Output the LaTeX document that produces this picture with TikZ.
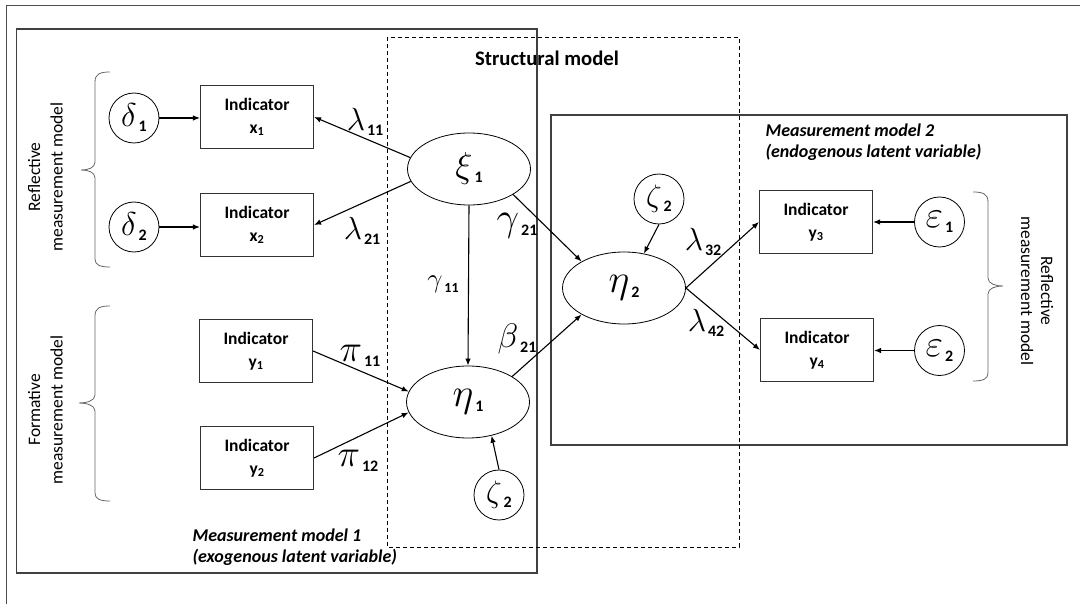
\RequirePackage{fix-cm}
\documentclass[tikz,border=0pt]{standalone}
\usepackage{fontspec}
\setmainfont{Carlito}
\usetikzlibrary{shapes.geometric,arrows.meta}
\newcommand{\gl}[4][16]{{\fontsize{#2}{#2}\selectfont$#3$}\hspace{2pt}\raisebox{-5pt}{\fontsize{#1}{#1}\selectfont\bfseries #4}}
\begin{document}
\begin{tikzpicture}[x=1pt,y=-1pt,
  ind/.style={draw=black!80, line width=1.1pt, minimum width=113pt, minimum height=63pt, inner sep=0pt, align=center, font=\fontsize{17.5}{23}\selectfont\bfseries},
  err/.style={draw, circle, line width=0.8pt, minimum size=50pt, inner sep=0pt},
  lat/.style={draw, ellipse, line width=0.8pt, minimum width=123pt, minimum height=72pt, inner sep=0pt},
  arr/.style={-{Latex[length=7pt,width=5.5pt]}, line width=1.1pt},
  lab/.style={inner sep=0pt},
  frame/.style={draw=black!75, line width=1.6pt},
  brace/.style={draw=black!60, line width=0.8pt},
  side/.style={align=center, font=\fontsize{17.5}{22.5}\selectfont},
  mmtext/.style={anchor=west, align=left, font=\fontsize{18}{21.5}\selectfont\bfseries\itshape},
]
\useasboundingbox (0,0) rectangle (1080,604);
% frames
\draw[draw=black!70, line width=1.2pt] (6.5,604) -- (6.5,5.5) -- (1080,5.5);
\draw[frame] (16.5,29) rectangle (537,573);
\draw[frame] (551,115) rectangle (1067,445);
\draw[line width=0.9pt, dash pattern=on 4pt off 3pt] (387.5,37.5) rectangle (739,547);

% texts
\node[font=\fontsize{20.7}{23}\selectfont\bfseries] (sm) at (547,58) {Structural model};
\node[mmtext] (mm2) at (762,142) {Measurement model 2\\(endogenous latent variable)};
\node[mmtext] (mm1) at (189,547) {Measurement model 1\\(exogenous latent variable)};
\node[side, rotate=90] (rl) at (45.5,177) {Reflective\\measurement model};
\node[side, rotate=90] (fl) at (45.5,410) {Formative\\measurement model};
\node[side, rotate=-90, font=\fontsize{17.5}{20}\selectfont] (rr) at (1037,291) {Reflective\\measurement model};

% braces
\draw[brace] (110,72) .. controls (100,72) and (95,74) .. (95,82) -- (95,162) .. controls (95,168) and (88,170) .. (81,170) .. controls (88,170) and (95,172) .. (95,178) -- (95,259) .. controls (95,265) and (100,267) .. (110,267);
\draw[brace] (110,306) .. controls (100,306) and (95,308) .. (95,316) -- (95,395) .. controls (95,401) and (86,403) .. (79,403) .. controls (86,403) and (95,405) .. (95,411) -- (95,493) .. controls (95,499) and (100,501) .. (110,501);
\draw[brace] (973,192) .. controls (983,192) and (988,194) .. (988,202) -- (988,278) .. controls (988,284) and (996,286) .. (1003,286) .. controls (996,286) and (988,288) .. (988,294) -- (988,373) .. controls (988,379) and (983,381) .. (973,381);

% indicators
\node[ind] (x1) at (257,117) {Indicator\\x\textsubscript{1}};
\node[ind] (x2) at (257,225) {Indicator\\x\textsubscript{2}};
\node[ind] (y1) at (256,351) {Indicator\\y\textsubscript{1}};
\node[ind] (y2) at (257,458) {Indicator\\y\textsubscript{2}};
\node[ind] (y3) at (816,222) {Indicator\\y\textsubscript{3}};
\node[ind] (y4) at (817,350) {Indicator\\y\textsubscript{4}};

% error terms
\node[err] (d1) at (134,118) {\gl{33}{\delta}{1}};
\node[err] (d2) at (134,227) {\gl{33}{\delta}{2}};
\node[err] (e1) at (939.5,222) {\gl{38}{\varepsilon}{1}};
\node[err] (e2) at (939.5,350.5) {\gl{38}{\varepsilon}{2}};
\node[err] (z2a) at (659,199) {\gl{31}{\zeta}{2}};
\node[err] (z2b) at (499,495) {\gl{31}{\zeta}{2}};

% latent variables
\node[lat] (xi) at (469,169) {\gl{36}{\xi}{1}};
\node[lat] (eta1) at (468,402) {\gl{40}{\eta}{1}};
\node[lat] (eta2) at (624,288) {\gl{40}{\eta}{2}};

% connectors
\draw[arr] (d1.east) -- (d1.east -| x1.west);
\draw[arr] (d2.east) -- (d2.east -| x2.west);
\draw[arr] (xi.169) -- (x1.east);
\draw[arr] (xi.192) -- (x2.east);
\draw[arr] (xi.south) -- (eta1.north);
\draw[arr] (xi.-30) -- (eta2.148);
\draw[arr] (y1.east) -- (eta1.170);
\draw[arr] (y2.east) -- (eta1.190);
\draw[arr] (eta1.30) -- (eta2.212);
\draw[arr] (z2b.north) -- (eta1.-55);
\draw[arr] (z2a.south) -- (eta2.60);
\draw[arr] (eta2.east) -- (y3.west);
\draw[arr] (eta2.east) -- (y4.west);
\draw[arr] (e1.west) -- (e1.west -| y3.east);
\draw[arr] (e2.west) -- (e2.west -| y4.east);

% path labels
\node[lab] (l11) at (365,122) {\gl{32}{\lambda}{11}};
\node[lab] (l21) at (362,231) {\gl{32}{\lambda}{21}};
\node[lab] (g21) at (517,226) {\gl{40}{\gamma}{21}};
\node[lab] (g11) at (443,284) {\gl[14]{27}{\gamma}{11}};
\node[lab] (b21) at (517,339) {\gl{34}{\beta}{21}};
\node[lab] (p11) at (360,356) {\gl{38}{\pi}{11}};
\node[lab] (p12) at (358,461) {\gl{38}{\pi}{12}};
\node[lab] (l32) at (703,242) {\gl{32}{\lambda}{32}};
\node[lab] (l42) at (706,323) {\gl{32}{\lambda}{42}};
\end{tikzpicture}
\end{document}
